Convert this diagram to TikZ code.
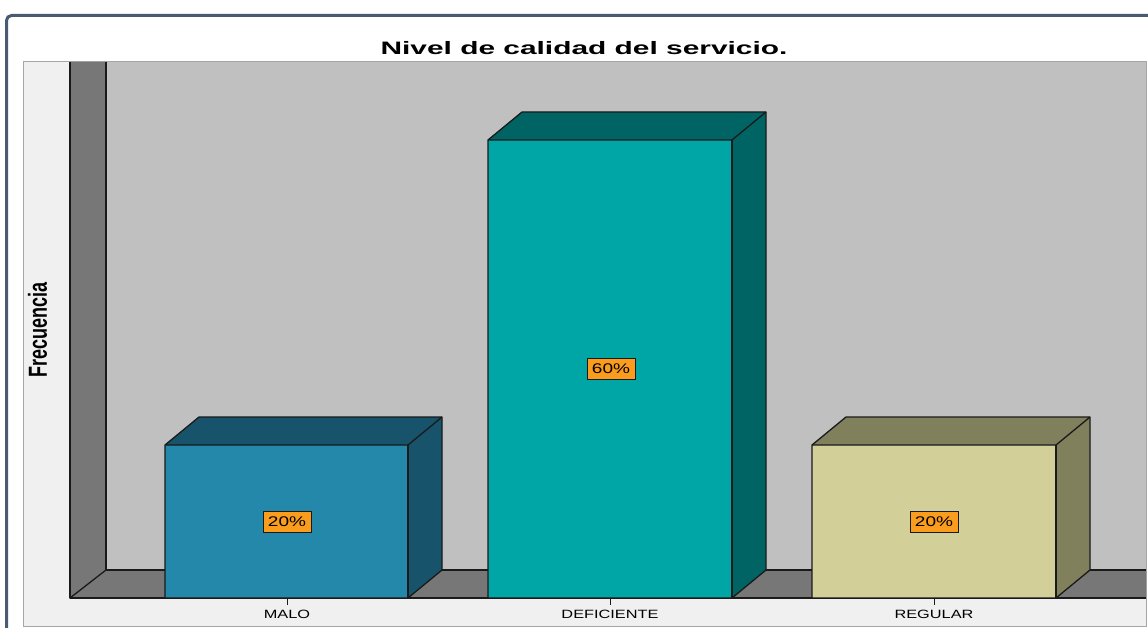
\documentclass[tikz,border=0pt]{standalone}
\usepackage{fontspec}
\setmainfont{Liberation Sans}
\definecolor{frameblue}{HTML}{4A5A73}
\definecolor{panel}{HTML}{F0F0F0}
\definecolor{wallback}{HTML}{C0C0C0}
\definecolor{walldark}{HTML}{777777}
\definecolor{malof}{HTML}{2388AA}
\definecolor{malod}{HTML}{17536A}
\definecolor{deff}{HTML}{00A6A6}
\definecolor{defd}{HTML}{006464}
\definecolor{regf}{HTML}{D3CF98}
\definecolor{regd}{HTML}{80805C}
\definecolor{lblorange}{HTML}{FA9C1E}
\definecolor{edge}{HTML}{1A1A1A}
\tikzset{
  edgeline/.style={draw=edge, line width=1.3pt, line join=round},
  pctbox/.style={draw=edge, line width=1pt, fill=lblorange, minimum width=48pt, minimum height=21pt, inner sep=0pt, font=\fontsize{14}{14}\selectfont},
  catlabel/.style={inner sep=0pt, anchor=base, font=\fontsize{12}{12}\selectfont},
}
\begin{document}
\begin{tikzpicture}[x=1pt,y=-1pt]
\useasboundingbox (0,0) rectangle (1148,628);
\fill[white] (0,0) rectangle (1148,628);
% outer frame
\draw[frameblue, line width=3pt, rounded corners=5pt] (6.5,15.5) -- (1170,15.5) -- (1170,650) -- (6.5,650) -- cycle;
% panel
\fill[panel] (23,62) rectangle (1146,626);
\draw[gray!70, line width=1pt] (23,626) -- (23,62) -- (1146,62) -- (1146,626) -- cycle;
% back wall
\fill[wallback] (106,62) rectangle (1146,570);
% left wall
\fill[walldark] (70,62) -- (106,62) -- (106,570) -- (70,598) -- cycle;
% floor
\fill[walldark] (70,598) -- (106,570) -- (1146,570) -- (1146,598) -- cycle;
\draw[edgeline] (70,62) -- (70,598) -- (1146,598);
\draw[edgeline] (106,62) -- (106,570) -- (1146,570);
\draw[edgeline] (70,598) -- (106,570);
% ticks
\foreach \cx in {287,610,934} \draw[edge, line width=1pt] (\cx,598) -- (\cx,605);
% bars
\newcommand{\mybar}[5]{% left, right, top, front colour, dark colour
  \fill[#4] (#1,#3) rectangle (#2,598);
  \fill[#5] (#1,#3) -- (#1+34,#3-28) -- (#2+34,#3-28) -- (#2,#3) -- cycle;
  \fill[#5] (#2,#3) -- (#2+34,#3-28) -- (#2+34,570) -- (#2,598) -- cycle;
  \draw[edgeline] (#1,598) -- (#1,#3) -- (#1+34,#3-28) -- (#2+34,#3-28) -- (#2+34,570) -- (#2,598) -- cycle;
  \draw[edgeline] (#1,#3) -- (#2,#3) -- (#2+34,#3-28);
  \draw[edgeline] (#2,#3) -- (#2,598);
}
\mybar{165}{408}{445}{malof}{malod}
\mybar{488}{732}{140}{deff}{defd}
\mybar{812}{1056}{445}{regf}{regd}
% percentage labels
\node[pctbox] (p1) at (287,521.5) {\scalebox{1.36}[1]{20\%}};
\node[pctbox] (p2) at (611,368.5) {\scalebox{1.36}[1]{60\%}};
\node[pctbox] (p3) at (934,521.5) {\scalebox{1.36}[1]{20\%}};
% category labels
\node[catlabel] (c1) at (287,618.5) {\scalebox{1.36}[1]{MALO}};
\node[catlabel] (c2) at (610,618.5) {\scalebox{1.36}[1]{DEFICIENTE}};
\node[catlabel] (c3) at (934,618.5) {\scalebox{1.36}[1]{REGULAR}};
% title
\node[inner sep=0pt, anchor=base, font=\fontsize{18}{18}\selectfont\bfseries] (title) at (584,55) {\scalebox{1.66}[1]{Nivel de calidad del servicio.}};
% axis label
\node[inner sep=0pt, rotate=90, font=\fontsize{18}{18}\selectfont\bfseries] (ylab) at (37.5,330) {\scalebox{1}[1.45]{Frecuencia}};
\end{tikzpicture}
\end{document}
